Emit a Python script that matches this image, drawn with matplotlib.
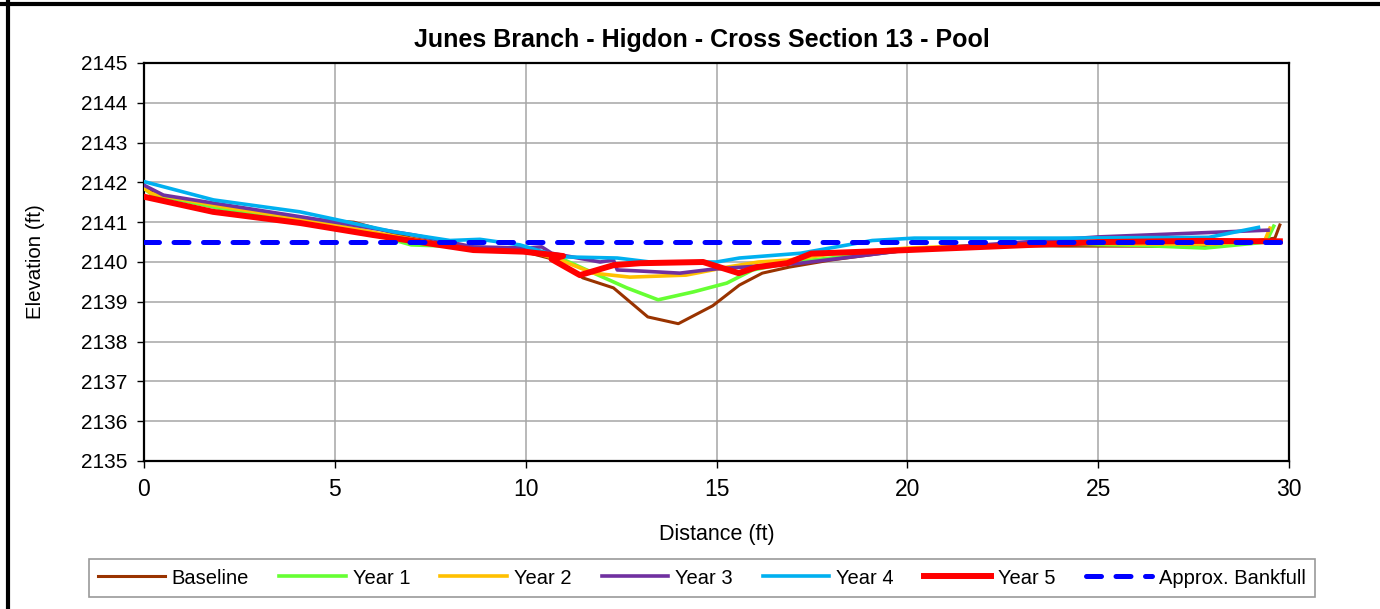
import matplotlib
matplotlib.use("Agg")
import matplotlib.pyplot as plt
from matplotlib.lines import Line2D

plt.rcParams['font.family'] = ['Liberation Sans', 'DejaVu Sans']

# ---- data ----
baseline_x = [0, 0.3, 2, 4, 5.5, 7, 8.5, 10, 10.8, 11.5, 12.3, 13.2, 14.0, 14.9, 15.6, 16.2, 16.9, 18, 20, 22, 24, 26, 28, 29.63, 29.76]
baseline_y = [2141.9, 2141.7, 2141.35, 2141.1, 2141.0, 2140.6, 2140.35, 2140.25, 2140.05, 2139.6, 2139.35, 2138.62, 2138.45, 2138.9, 2139.42, 2139.72, 2139.87, 2140.05, 2140.3, 2140.42, 2140.4, 2140.4, 2140.38, 2140.6, 2140.93]

year1_x = [0, 0.2, 2, 4, 6, 7, 8.5, 10, 10.9, 12.65, 13.47, 14.4, 15.27, 15.95, 17, 18.5, 20, 22, 24, 26, 27.8, 29.4, 29.6]
year1_y = [2141.85, 2141.7, 2141.35, 2141.1, 2140.7, 2140.43, 2140.38, 2140.3, 2140.1, 2139.35, 2139.05, 2139.25, 2139.47, 2139.8, 2140.0, 2140.15, 2140.3, 2140.42, 2140.45, 2140.42, 2140.35, 2140.5, 2140.9]

year2_x = [0, 0.2, 2, 4, 6, 8, 10, 10.9, 11.77, 12.73, 14.2, 15.27, 16.1, 16.9, 18, 20, 22, 24, 26, 28, 29.37, 29.5]
year2_y = [2141.85, 2141.72, 2141.4, 2141.1, 2140.75, 2140.4, 2140.3, 2140.05, 2139.72, 2139.62, 2139.67, 2139.87, 2140.0, 2140.05, 2140.2, 2140.35, 2140.42, 2140.48, 2140.45, 2140.45, 2140.55, 2140.85]

year3_x = [0, 0.51, 1.82, 5.14, 7.06, 8.63, 10.03, 10.42, 10.68, 11.95, 12.3, 12.4, 13.07, 14.04, 14.9, 17.2, 20, 25, 29.45]
year3_y = [2141.93, 2141.68, 2141.48, 2140.98, 2140.68, 2140.38, 2140.35, 2140.38, 2140.22, 2140.0, 2140.05, 2139.8, 2139.77, 2139.72, 2139.82, 2139.97, 2140.3, 2140.63, 2140.8]

year4_x = [0, 1.82, 4.09, 6.53, 8.02, 8.8, 9.85, 10.9, 12.4, 13.26, 15.0, 15.6, 17.2, 18.38, 19.08, 20.18, 24, 27.9, 29.2]
year4_y = [2142.02, 2141.56, 2141.26, 2140.76, 2140.54, 2140.57, 2140.43, 2140.13, 2140.1, 2140.0, 2140.0, 2140.1, 2140.22, 2140.42, 2140.54, 2140.6, 2140.6, 2140.62, 2140.87]

year5_x = [0, 1.81, 4.09, 5.99, 8.63, 9.94, 10.98, 10.68, 11.42, 12.3, 13.0, 14.65, 15.58, 16.05, 16.85, 17.48, 20, 25, 27.67, 29.76]
year5_y = [2141.64, 2141.26, 2140.98, 2140.68, 2140.3, 2140.26, 2140.15, 2140.07, 2139.67, 2139.92, 2139.97, 2140.0, 2139.72, 2139.87, 2139.97, 2140.21, 2140.3, 2140.5, 2140.53, 2140.52]

bankfull_x = [0, 30]
bankfull_y = [2140.5, 2140.5]

x_ticks = [0, 5, 10, 15, 20, 25, 30]
y_ticks = list(range(2135, 2146))

title = "Junes Branch - Higdon - Cross Section 13 - Pool"

# ---- figure ----
fig = plt.figure(figsize=(13.8, 6.09), dpi=100)
ax = fig.add_axes([144/1380, 1-461/609, (1289-144)/1380, (461-63)/609])

ax.plot(baseline_x, baseline_y, color='#993300', lw=2.2, label='Baseline', zorder=3)
ax.plot(year1_x, year1_y, color='#66FF33', lw=2.6, label='Year 1', zorder=3)
ax.plot(year2_x, year2_y, color='#FFC000', lw=2.6, label='Year 2', zorder=3)
ax.plot(year3_x, year3_y, color='#7030A0', lw=2.6, label='Year 3', zorder=3)
ax.plot(year4_x, year4_y, color='#00B0F0', lw=2.6, label='Year 4', zorder=3)
ax.plot(year5_x, year5_y, color='#FF0000', lw=4.3, label='Year 5', zorder=4)
ax.plot(bankfull_x, bankfull_y, color='#0000FF', lw=3.6, ls=(0, (3.0, 2.9)),
        dash_capstyle='round', label='Approx. Bankfull', zorder=5)

ax.set_xlim(0, 30)
ax.set_ylim(2135, 2145)
ax.set_xticks(x_ticks)
ax.set_yticks(y_ticks)
ax.tick_params(axis='x', labelsize=16.5, direction='out', length=5, width=1, pad=7)
ax.tick_params(axis='y', labelsize=15, direction='out', length=5, width=1, pad=7)
ax.grid(True, color='#A6A6A6', lw=1.1)
ax.set_axisbelow(True)
for s in ax.spines.values():
    s.set_color('black')
    s.set_linewidth(1.6)

ax.set_xlabel('Distance (ft)', fontsize=15.5, labelpad=17)
ax.set_ylabel('Elevation (ft)', fontsize=14.8, labelpad=26)

fig.text(702/1380, 1-40/609, title, ha='center', va='center', fontsize=18, fontweight='bold')

leg = fig.legend(loc='center', bbox_to_anchor=(702/1380, 1-578/609), ncol=7,
                 fontsize=14.5, frameon=True, fancybox=False, edgecolor='#808080',
                 handlelength=3.3, handletextpad=0.35, columnspacing=1.5,
                 borderpad=0.45)
leg.get_frame().set_linewidth(1.2)

# figure border (chart area)
fig.add_artist(Line2D([0, 1], [1-4/609, 1-4/609], transform=fig.transFigure, color='black', lw=3))
fig.add_artist(Line2D([8/1380, 8/1380], [0, 1], transform=fig.transFigure, color='black', lw=3))

fig.savefig('out.png', dpi=100)
